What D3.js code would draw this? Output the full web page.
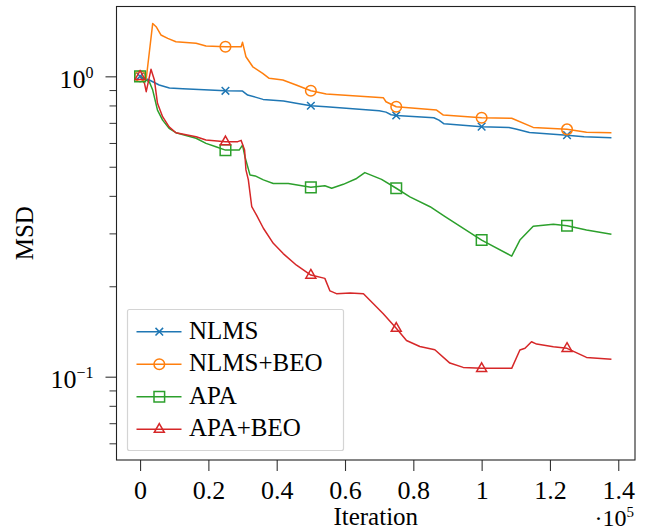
<!DOCTYPE html>
<html>
<head>
<meta charset="utf-8">
<script src="https://cdn.jsdelivr.net/npm/d3@7"></script>
<style>
  body { margin: 0; background: #fff; }
  svg { display: block; }
  svg text { font-family: "Liberation Serif", "DejaVu Serif", serif; }
</style>
</head>
<body>
<div id="chart"></div>
<script>
// tick values / labels
const xTicks = [0, 20000, 40000, 60000, 80000, 100000, 120000, 140000];
const xTickLabels = ["0", "0.2", "0.4", "0.6", "0.8", "1", "1.2", "1.4"];
const yMajor = [0.1, 1];
const yMajorExp = ["\u22121", "0"];
const yMinor = [0.06, 0.07, 0.08, 0.09, 0.2, 0.3, 0.4, 0.5, 0.6, 0.7, 0.8, 0.9];

const seriesNames = ["NLMS", "NLMS+BEO", "APA", "APA+BEO"];
const seriesColors = ["#1f77b4", "#ff7f0e", "#2ca02c", "#d62728"];
const seriesMarkers = ["x", "circle", "square", "triangle"];

// [iteration, MSD]
const nlms = [[0,1.0],[2700,0.972],[5600,0.936],[8600,0.914],[12500,0.909],[25000,0.895],[30000,0.893],
  [31500,0.866],[34000,0.851],[36000,0.838],[42000,0.827],[45700,0.813],[50000,0.798],[54500,0.792],
  [70000,0.768],[72000,0.760],[73500,0.745],[75000,0.741],[86000,0.728],[87500,0.715],[89000,0.695],
  [100000,0.680],[108000,0.676],[110000,0.668],[114000,0.650],[125000,0.637],[130000,0.629],[138000,0.625]];

const nlmsBeo = [[0,1.0],[1800,0.98],[3700,1.50],[4700,1.463],[6100,1.373],[8100,1.338],[10500,1.304],
  [16400,1.288],[19300,1.261],[25000,1.255],[29600,1.255],[30000,1.298],[31000,1.162],[33000,1.076],
  [35900,1.023],[37800,0.985],[41800,0.972],[45700,0.936],[50000,0.895],[54500,0.873],[71200,0.849],
  [72000,0.823],[75000,0.792],[86800,0.772],[88800,0.743],[100000,0.728],[108800,0.725],[115100,0.676],
  [125000,0.666],[130700,0.651],[138000,0.649]];

const apa = [[0,1.0],[1800,0.972],[2700,0.959],[3700,0.900],[5100,0.772],[6600,0.715],[8500,0.671],
  [10500,0.649],[16400,0.622],[19300,0.598],[22200,0.583],[25000,0.568],[29000,0.568],[30000,0.590],
  [30700,0.540],[32200,0.469],[33700,0.466],[36100,0.452],[39000,0.440],[43400,0.440],[50000,0.427],
  [54100,0.432],[56100,0.424],[59500,0.437],[63400,0.457],[65800,0.478],[70700,0.454],[75000,0.424],
  [79000,0.397],[84900,0.368],[89300,0.341],[100000,0.285],[108800,0.252],[111200,0.285],[115100,0.317],
  [121000,0.322],[125000,0.318],[130700,0.308],[138000,0.298]];

const apaBeo = [[0,1.0],[1300,0.948],[1800,0.889],[3200,1.055],[4200,0.972],[5100,0.813],[6600,0.734],
  [8500,0.679],[10500,0.649],[16400,0.629],[19300,0.614],[25000,0.606],[28600,0.606],[29600,0.612],
  [30600,0.568],[31000,0.488],[31700,0.452],[32700,0.368],[34100,0.345],[36100,0.312],[39000,0.278],
  [41900,0.257],[45800,0.235],[50000,0.218],[54100,0.2125],[55600,0.193],[57500,0.189],[61500,0.190],
  [65400,0.189],[68300,0.175],[71200,0.162],[75000,0.145],[78000,0.132],[81900,0.126],[86300,0.123],
  [90700,0.111],[94600,0.1074],[100000,0.1066],[108800,0.1066],[111200,0.1227],[112700,0.1243],
  [114600,0.1307],[116100,0.1284],[121000,0.1258],[125000,0.1243],[130700,0.1159],[138000,0.1144]];

const seriesData = [nlms, nlmsBeo, apa, apaBeo];
const markEvery = 25000;

const width = 651, height = 530;
const plot = { left: 116.5, top: 6.5, right: 635, bottom: 460 };

const svg = d3.select("#chart").append("svg")
    .attr("width", width)
    .attr("height", height)
    .attr("viewBox", [0, 0, width, height]);

const x = d3.scaleLinear().domain([-6900, 144900]).range([plot.left, plot.right]);
const y = d3.scaleLog().domain([0.0528, 1.708]).range([plot.bottom, plot.top]);

// marker shapes
function markerPath(type) {
    if (type === "x") return "M-3.8,-3.8L3.8,3.8M-3.8,3.8L3.8,-3.8";
    if (type === "square") return "M-5.3,-5.3H5.3V5.3H-5.3Z";
    if (type === "triangle") return "M0,-5.6L5,3.1L-5,3.1Z";
    return d3.arc()({ innerRadius: 0, outerRadius: 5.3, startAngle: 0, endAngle: 2 * Math.PI });
}

// x axis
const xAxis = svg.append("g")
    .attr("transform", `translate(0,${plot.bottom})`)
    .call(d3.axisBottom(x).tickValues(xTicks).tickSize(11).tickPadding(0)
        .tickFormat((d, i) => xTickLabels[i]));
xAxis.attr("font-family", null).attr("font-size", null);
xAxis.select(".domain").remove();
xAxis.selectAll(".tick line").attr("stroke", "#333").attr("stroke-width", 1.1);
xAxis.selectAll(".tick text")
    .attr("y", 39).attr("dy", null)
    .attr("fill", "#000")
    .attr("font-size", 26);

// y axis minor ticks
const yMinorAxis = svg.append("g")
    .attr("transform", `translate(${plot.left},0)`)
    .call(d3.axisLeft(y).tickValues(yMinor).tickSize(7).tickFormat(""));
yMinorAxis.select(".domain").remove();
yMinorAxis.selectAll(".tick line").attr("stroke", "#333").attr("stroke-width", 1);

// y axis major ticks
const yMajorAxis = svg.append("g")
    .attr("transform", `translate(${plot.left},0)`)
    .call(d3.axisLeft(y).tickValues(yMajor).tickSize(11).tickFormat(""));
yMajorAxis.attr("font-family", null).attr("font-size", null);
yMajorAxis.select(".domain").remove();
yMajorAxis.selectAll(".tick line").attr("stroke", "#333").attr("stroke-width", 1.1);
yMajorAxis.selectAll(".tick").each(function(d, i) {
    const t = d3.select(this).append("text")
        .attr("x", -23)
        .attr("y", 11)
        .attr("text-anchor", "end")
        .attr("fill", "#000")
        .attr("font-size", 26);
    t.append("tspan").text("10");
    t.append("tspan").attr("dy", -10).attr("font-size", 16).text(yMajorExp[i]);
});

// clip
svg.append("clipPath").attr("id", "clip")
  .append("rect")
    .attr("x", plot.left).attr("y", plot.top)
    .attr("width", plot.right - plot.left).attr("height", plot.bottom - plot.top);

const line = d3.line().x(d => x(d[0])).y(d => y(d[1]));

const plotArea = svg.append("g").attr("clip-path", "url(#clip)");

seriesData.forEach((data, i) => {
    plotArea.append("path")
        .datum(data)
        .attr("d", line)
        .attr("fill", "none")
        .attr("stroke", seriesColors[i])
        .attr("stroke-width", 1.5)
        .attr("stroke-linejoin", "round");
});

seriesData.forEach((data, i) => {
    plotArea.append("g")
        .selectAll("path")
        .data(data.filter(d => d[0] % markEvery === 0))
        .join("path")
        .attr("transform", d => `translate(${x(d[0])},${y(d[1])})`)
        .attr("d", markerPath(seriesMarkers[i]))
        .attr("fill", "none")
        .attr("stroke", seriesColors[i])
        .attr("stroke-width", 1.5);
});

// frame
svg.append("rect")
    .attr("x", plot.left).attr("y", plot.top)
    .attr("width", plot.right - plot.left).attr("height", plot.bottom - plot.top)
    .attr("fill", "none")
    .attr("stroke", "#222")
    .attr("stroke-width", 1.1);

// axis labels
svg.append("text")
    .attr("transform", `translate(33,${(plot.top + plot.bottom) / 2}) rotate(-90)`)
    .attr("text-anchor", "middle")
    .attr("font-size", 25)
    .text("MSD");

svg.append("text")
    .attr("x", (plot.left + plot.right) / 2)
    .attr("y", 525)
    .attr("text-anchor", "middle")
    .attr("font-size", 25)
    .text("Iteration");

const sci = svg.append("text")
    .attr("x", 634)
    .attr("y", 526)
    .attr("text-anchor", "end")
    .attr("font-size", 24);
sci.append("tspan").text("\u00b710");
sci.append("tspan").attr("dy", -9).attr("font-size", 15).text("5");

// legend
const legend = svg.append("g");
legend.append("rect")
    .attr("x", 127.5).attr("y", 309.5)
    .attr("width", 216).attr("height", 141)
    .attr("rx", 2)
    .attr("fill", "#fff")
    .attr("fill-opacity", 0.85)
    .attr("stroke", "#d4d4d4")
    .attr("stroke-width", 1.2);

seriesNames.forEach((name, i) => {
    const ly = 331.7 + i * 32.5;
    const row = legend.append("g");
    row.append("line")
        .attr("x1", 136.5).attr("x2", 181.5)
        .attr("y1", ly).attr("y2", ly)
        .attr("stroke", seriesColors[i])
        .attr("stroke-width", 1.5);
    row.append("path")
        .attr("transform", `translate(159.3,${ly})`)
        .attr("d", markerPath(seriesMarkers[i]))
        .attr("fill", "none")
        .attr("stroke", seriesColors[i])
        .attr("stroke-width", 1.5);
    row.append("text")
        .attr("x", 189)
        .attr("y", ly + 7)
        .attr("font-size", 25)
        .text(name);
});
</script>
</body>
</html>
